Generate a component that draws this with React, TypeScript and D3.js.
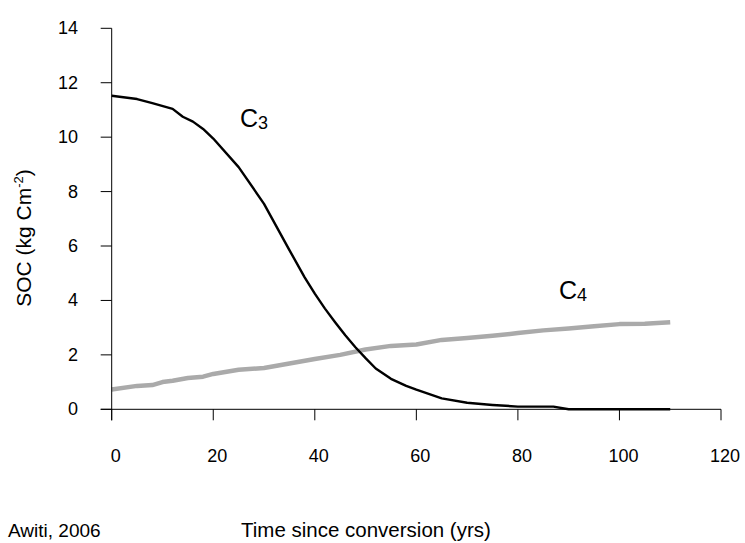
import React from "react";
import * as d3 from "d3";

// years since conversion
const c3Years = [0, 5, 8, 12, 14, 16, 18, 20, 25, 30, 35, 38, 40, 42, 44, 46, 48, 50, 52, 55, 58, 60, 65, 70, 75, 80, 85, 87, 90, 95, 100, 105, 110];
const c3Values = [11.52, 11.4, 11.25, 11.04, 10.75, 10.57, 10.3, 9.95, 8.9, 7.55, 5.85, 4.85, 4.25, 3.7, 3.2, 2.72, 2.28, 1.88, 1.5, 1.12, 0.86, 0.72, 0.4, 0.24, 0.16, 0.1, 0.1, 0.1, 0.0, 0.0, 0.0, 0.0, 0.0];

const c4Years = [0, 5, 8, 10, 12, 15, 18, 20, 25, 30, 35, 40, 45, 50, 55, 60, 65, 70, 75, 80, 85, 90, 95, 100, 105, 110];
const c4Values = [0.73, 0.86, 0.89, 1.0, 1.05, 1.15, 1.2, 1.3, 1.45, 1.52, 1.68, 1.85, 2.0, 2.2, 2.33, 2.38, 2.55, 2.62, 2.7, 2.8, 2.9, 2.97, 3.05, 3.13, 3.14, 3.2];

const xTicks = [0, 20, 40, 60, 80, 100, 120];
const yTicks = [0, 2, 4, 6, 8, 10, 12, 14];

const W = 745;
const H = 543;
const font = "'Liberation Sans', Arial, Helvetica, sans-serif";

export default function App() {
  const x = d3.scaleLinear().domain([0, 120]).range([111.7, 721]);
  const y = d3.scaleLinear().domain([0, 14]).range([409.3, 28.3]);

  const line = d3
    .line<[number, number]>()
    .x((d) => x(d[0]))
    .y((d) => y(d[1]))
    .curve(d3.curveLinear);

  const c3 = c3Years.map((yr, i) => [yr, c3Values[i]] as [number, number]);
  const c4 = c4Years.map((yr, i) => [yr, c4Values[i]] as [number, number]);

  const tick = 11;

  return (
    <svg
      width={W}
      height={H}
      style={{ position: "absolute", left: 0, top: 0, background: "#fff" }}
      fontFamily={font}
    >
      {/* curves */}
      <path d={line(c4) || ""} fill="none" stroke="#aaaaaa" strokeWidth={4.5} strokeLinejoin="round" />
      <path d={line(c3) || ""} fill="none" stroke="#000" strokeWidth={2.4} strokeLinejoin="round" />

      {/* y axis */}
      <line x1={x(0)} x2={x(0)} y1={y(14)} y2={y(0) + tick} stroke="#000" strokeWidth={1} />
      {yTicks.map((t) => (
        <g key={"y" + t}>
          <line x1={x(0) - tick} x2={x(0)} y1={y(t)} y2={y(t)} stroke="#000" strokeWidth={1} />
          <text x={78} y={y(t)} dy="0.33em" textAnchor="end" fontSize={18} fill="#000">
            {t}
          </text>
        </g>
      ))}

      {/* x axis */}
      <line x1={x(0) - tick} x2={x(120)} y1={y(0)} y2={y(0)} stroke="#000" strokeWidth={1} />
      {xTicks.map((t) => (
        <g key={"x" + t}>
          <line x1={x(t)} x2={x(t)} y1={y(0)} y2={y(0) + tick} stroke="#000" strokeWidth={1} />
          <text x={x(t) + 4} y={462} textAnchor="middle" fontSize={18} fill="#000">
            {t}
          </text>
        </g>
      ))}

      {/* series labels */}
      <text x={240} y={127} fontSize={25} fill="#000">
        C<tspan fontSize={18} dy={2}>3</tspan>
      </text>
      <text x={559} y={299} fontSize={25} fill="#000">
        C<tspan fontSize={18} dy={2}>4</tspan>
      </text>

      {/* axis titles */}
      <text
        transform={`translate(31, 238) rotate(-90)`}
        textAnchor="middle"
        fontSize={21}
        fill="#000"
      >
        SOC (kg Cm<tspan fontSize={13} dy={-8}>-2</tspan>
        <tspan dy={8}>)</tspan>
      </text>
      <text x={241} y={537} fontSize={20.5} fill="#000">
        Time since conversion (yrs)
      </text>
      <text x={8} y={537} fontSize={19} fill="#000">
        Awiti, 2006
      </text>
    </svg>
  );
}
